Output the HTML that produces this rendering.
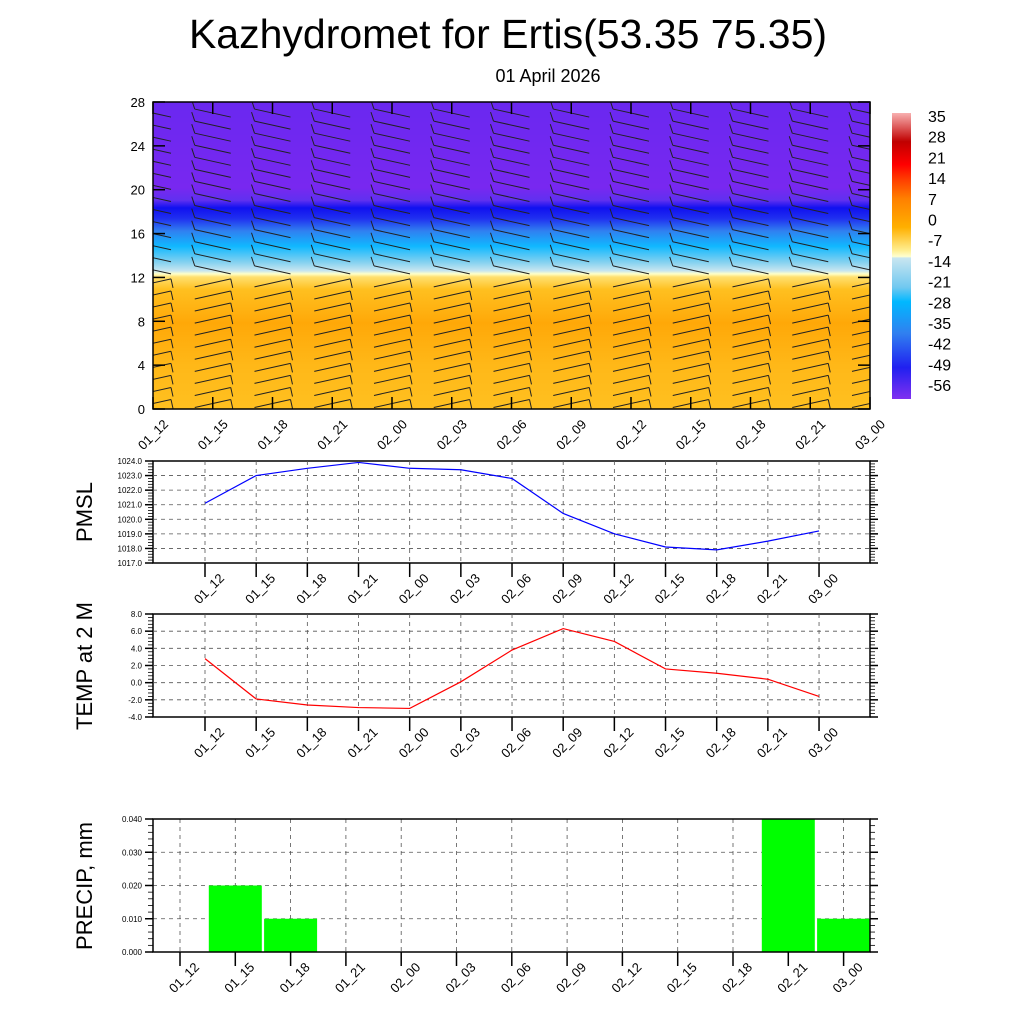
<!DOCTYPE html>
<html><head><meta charset="utf-8">
<style>
body{margin:0;background:#fff;}
svg{display:block;font-family:"Liberation Sans",sans-serif;}
</style></head>
<body>
<svg id="s" width="1024" height="1024" viewBox="0 0 1024 1024">
<defs>
<linearGradient id="tg" x1="0" y1="1" x2="0" y2="0">
<stop offset="0" stop-color="#ffc020"/>
<stop offset="0.14" stop-color="#ffb818"/>
<stop offset="0.28" stop-color="#ffa808"/>
<stop offset="0.39" stop-color="#ffc020"/>
<stop offset="0.43" stop-color="#ffe070"/>
<stop offset="0.44" stop-color="#ffffc8"/>
<stop offset="0.45" stop-color="#c8e6f0"/>
<stop offset="0.48" stop-color="#80d0f0"/>
<stop offset="0.53" stop-color="#10b8ff"/>
<stop offset="0.58" stop-color="#3080f0"/>
<stop offset="0.62" stop-color="#2030f0"/>
<stop offset="0.655" stop-color="#1010f0"/>
<stop offset="0.68" stop-color="#6030f0"/>
<stop offset="0.72" stop-color="#7828f0"/>
<stop offset="1" stop-color="#6a28f0"/>
</linearGradient>
<linearGradient id="cb" x1="0" y1="0" x2="0" y2="1">
<stop offset="0" stop-color="#f8b0b0"/>
<stop offset="0.1" stop-color="#c00000"/>
<stop offset="0.18" stop-color="#ff0000"/>
<stop offset="0.235" stop-color="#ff4000"/>
<stop offset="0.3" stop-color="#ff8000"/>
<stop offset="0.4" stop-color="#ffb000"/>
<stop offset="0.48" stop-color="#ffee90"/>
<stop offset="0.502" stop-color="#ffffd0"/>
<stop offset="0.507" stop-color="#c8e6f0"/>
<stop offset="0.61" stop-color="#70c8f0"/>
<stop offset="0.66" stop-color="#00b8ff"/>
<stop offset="0.77" stop-color="#3080f0"/>
<stop offset="0.89" stop-color="#2020f0"/>
<stop offset="1" stop-color="#8030f0"/>
</linearGradient>
<clipPath id="tclip"><rect x="153" y="102" width="717" height="307"/></clipPath>
</defs>
<text x="508" y="48" font-size="41" text-anchor="middle">Kazhydromet for Ertis(53.35 75.35)</text>
<text x="548" y="82" font-size="18" text-anchor="middle">01 April 2026</text>
<g id="topg"></g>
<g id="cbar"></g>
<g id="pm"></g>
<g id="tp"></g>
<g id="pr"></g>
</svg>
<script>
const times=["01_12","01_15","01_18","01_21","02_00","02_03","02_06","02_09","02_12","02_15","02_18","02_21","03_00"];
const pmsl=[1021.1,1023.0,1023.5,1023.9,1023.5,1023.4,1022.8,1020.4,1019.0,1018.1,1017.9,1018.5,1019.2];
const temp=[2.8,-1.9,-2.6,-2.9,-3.0,0.1,3.8,6.3,4.8,1.6,1.1,0.4,-1.6];
const precip=[0,0.02,0.01,0,0,0,0,0,0,0,0,0.04,0.01];
const heightTicks=[0,4,8,12,16,20,24,28];
const cbLabels=["35","28","21","14","7","0","-7","-14","-21","-28","-35","-42","-49","-56"];
const pmTicks=[1017,1018,1019,1020,1021,1022,1023,1024];
const tpTicks=[-4,-2,0,2,4,6,8];
const prTicks=[0,0.01,0.02,0.03,0.04];
const NS="http://www.w3.org/2000/svg";
function mk(p,t,a){const e=document.createElementNS(NS,t);for(const k in a)e.setAttribute(k,a[k]);p.appendChild(e);return e;}
const L=153,R=870;
function xlabel(g,x,y0,s){
  const ax=x+20,ay=y0+16;
  const t=mk(g,'text',{x:ax,y:ay,'font-size':13,'text-anchor':'end',transform:`rotate(-45 ${ax} ${ay})`});t.textContent=s;
  
  
}
// TOP PANEL
const topG=document.getElementById('topg');
const tY0=409,tY1=102;
const hy=v=>tY0-(v/28)*(tY0-tY1);
const tx=i=>L+i*(R-L)/12;
let bg=mk(topG,'rect',{x:L,y:tY1,width:R-L,height:tY0-tY1,fill:'url(#tg)'});


const barbs=mk(topG,'g',{stroke:'#222','stroke-width':1,fill:'none','clip-path':'url(#tclip)'});


for(let i=0;i<13;i++){
  const cx=tx(i);
  for(let h=0.5;h<28;h+=1.1){
    const y=hy(h);
    let d;
    if(h>12){d=`M${cx-18} ${y-5} L${cx+18} ${y+3} M${cx-18} ${y-5} L${cx-21} ${y-14}`;}
    else{d=`M${cx-18} ${y+4} L${cx+18} ${y-4} M${cx+18} ${y-4} L${cx+20} ${y+5}`;}
    mk(barbs,'path',{d:d});
  }
}
mk(topG,'rect',{x:L,y:tY1,width:R-L,height:tY0-tY1,fill:'none',stroke:'#000','stroke-width':1.5});
heightTicks.forEach(v=>{
  const y=hy(v);
  mk(topG,'line',{x1:L,x2:L+12,y1:y,y2:y,stroke:'#000','stroke-width':1.5});
  mk(topG,'line',{x1:R,x2:R-12,y1:y,y2:y,stroke:'#000','stroke-width':1.5});
  const t=mk(topG,'text',{x:L-8,y:y+5,'font-size':13,'text-anchor':'end'});t.textContent=v;
  
  
});
times.forEach((s,i)=>{
  const x=tx(i);
  mk(topG,'line',{x1:x,x2:x,y1:tY1,y2:tY1+12,stroke:'#000','stroke-width':1.5});
  mk(topG,'line',{x1:x,x2:x,y1:tY0,y2:tY0-12,stroke:'#000','stroke-width':1.5});
  xlabel(topG,x-4,tY0,s);
});
// COLORBAR
const cbG=document.getElementById('cbar');
let cr=mk(cbG,'rect',{x:892,y:113,width:19,height:286,fill:'url(#cb)'});


cbLabels.forEach((s,i)=>{
  const t=mk(cbG,'text',{x:928,y:122+i*20.7,'font-size':16});t.textContent=s;
  
  
});
function linePanel(g,y0,y1,vals,ticks,color,min,max,title,titleY){
  const yy=v=>y1-(v-min)/(max-min)*(y1-y0);
  const xx=i=>205+i*51.17;
  mk(g,'rect',{x:L,y:y0,width:R-L,height:y1-y0,fill:'none',stroke:'#000','stroke-width':1.5});
  ticks.forEach(v=>{
    const y=yy(v);
    if(v>min&&v<max)mk(g,'line',{x1:L,x2:R,y1:y,y2:y,stroke:'#555','stroke-dasharray':'4 4','stroke-width':0.8});
    mk(g,'line',{x1:L-8,x2:L,y1:y,y2:y,stroke:'#000','stroke-width':1.5});
    mk(g,'line',{x1:R,x2:R+8,y1:y,y2:y,stroke:'#000','stroke-width':1.5});
    const t=mk(g,'text',{x:L-11,y:y+3,'font-size':8,'text-anchor':'end'});t.textContent=v.toFixed(1);
    
    
  });
  const step=(ticks[1]-ticks[0])/5;
  for(let v=min;v<=max+1e-9;v+=step){const y=yy(v);
    mk(g,'line',{x1:L-5,x2:L,y1:y,y2:y,stroke:'#000','stroke-width':0.8});
    mk(g,'line',{x1:R,x2:R+5,y1:y,y2:y,stroke:'#000','stroke-width':0.8});}
  times.forEach((s,i)=>{
    const x=xx(i);
    mk(g,'line',{x1:x,x2:x,y1:y0,y2:y1,stroke:'#555','stroke-dasharray':'4 4','stroke-width':0.8});
    mk(g,'line',{x1:x,x2:x,y1:y1,y2:y1+14,stroke:'#000','stroke-width':1.5});
    xlabel(g,x,y1,s);
  });
  const pl=mk(g,'polyline',{points:vals.map((v,i)=>xx(i)+','+yy(v)).join(' '),fill:'none',stroke:color,'stroke-width':1.2});
  
  
  const t=mk(g,'text',{x:92,y:titleY,'font-size':22,'text-anchor':'middle',transform:`rotate(-90 92 ${titleY})`});t.textContent=title;
  
  
}
linePanel(document.getElementById('pm'),461,563,pmsl,pmTicks,'#0000ff',1017,1024,'PMSL',512);
linePanel(document.getElementById('tp'),614,717,temp,tpTicks,'#ff0000',-4,8,'TEMP at 2 M',666);
// PRECIP
const prG=document.getElementById('pr');
const pY0=819,pY1=952;
const py=v=>pY1-v/0.04*(pY1-pY0);
const px=i=>180+i*55.3;
prTicks.forEach(v=>{
  const y=py(v);
  if(v>0)mk(prG,'line',{x1:L,x2:R,y1:y,y2:y,stroke:'#555','stroke-dasharray':'4 4','stroke-width':0.8});
  mk(prG,'line',{x1:L-8,x2:L,y1:y,y2:y,stroke:'#000','stroke-width':1.5});
  mk(prG,'line',{x1:R,x2:R+8,y1:y,y2:y,stroke:'#000','stroke-width':1.5});
  const t=mk(prG,'text',{x:L-11,y:y+3,'font-size':8,'text-anchor':'end'});t.textContent=v.toFixed(3);
  
  
});
for(let v=0;v<=0.04+1e-9;v+=0.002){const y=py(v);
  mk(prG,'line',{x1:L-5,x2:L,y1:y,y2:y,stroke:'#000','stroke-width':0.8});
  mk(prG,'line',{x1:R,x2:R+5,y1:y,y2:y,stroke:'#000','stroke-width':0.8});}
times.forEach((s,i)=>{
  const x=px(i);
  mk(prG,'line',{x1:x,x2:x,y1:pY0,y2:pY1,stroke:'#555','stroke-dasharray':'4 4','stroke-width':0.8});
});
precip.forEach((v,i)=>{
  if(v<=0)return;
  const b=mk(prG,'rect',{x:px(i)-26.5,y:py(v),width:53,height:pY1-py(v),fill:'#00ff00'});
  
  
});
times.forEach((s,i)=>{
  const x=px(i);
  mk(prG,'line',{x1:x,x2:x,y1:pY1,y2:pY1+14,stroke:'#000','stroke-width':1.5});
  xlabel(prG,x,pY1,s);
});
mk(prG,'rect',{x:L,y:pY0,width:R-L,height:pY1-pY0,fill:'none',stroke:'#000','stroke-width':1.5});
const pt=mk(prG,'text',{x:92,y:886,'font-size':22,'text-anchor':'middle',transform:'rotate(-90 92 886)'});pt.textContent='PRECIP, mm';


</script>
</body></html>
